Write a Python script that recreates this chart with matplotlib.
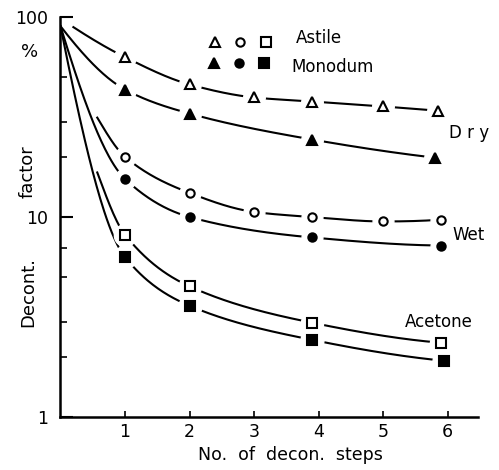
import numpy as np
import matplotlib
matplotlib.use("Agg")
from matplotlib import pyplot as plt
from matplotlib.ticker import NullFormatter

# values (x = no. of decon. steps, y = decont. factor %)
start_y = 90.0

astile_dry_x = [1, 2, 3, 3.9, 5, 5.85]
astile_dry = [63, 46, 39.6, 37.8, 35.7, 34.0]
astile_dry_start = (0.2, 89)

monodum_dry_x = [1, 2, 3.9, 5.8]
monodum_dry = [43.4, 32.9, 24.4, 19.8]

astile_wet_x = [1, 2, 3, 3.9, 5, 5.9]
astile_wet = [20.0, 13.2, 10.6, 10.0, 9.5, 9.7]
astile_wet_start = (0.57, 31.4)

monodum_wet_x = [1, 2, 3.9, 5.9]
monodum_wet = [15.5, 10.0, 7.9, 7.2]

astile_acetone_x = [1, 2, 3.9, 5.9]
astile_acetone = [8.15, 4.5, 2.96, 2.35]
astile_acetone_start = (0.57, 16.7)

monodum_acetone_x = [1, 2, 3.9, 5.95]
monodum_acetone = [6.3, 3.6, 2.43, 1.91]

x_ticks = [1, 2, 3, 4, 5, 6]
y_ticks = [1, 10, 100]
y_tick_labels = ['1', '10', '100']
y_minor = [2, 3, 5, 7, 20, 30, 50]


def pchip(x, y, xs):
    x = np.asarray(x, float)
    y = np.asarray(y, float)
    h = np.diff(x)
    d = np.diff(y) / h
    n = len(x)
    m = np.zeros(n)
    for k in range(1, n - 1):
        if d[k - 1] * d[k] > 0:
            w1 = 2 * h[k] + h[k - 1]
            w2 = h[k] + 2 * h[k - 1]
            m[k] = (w1 + w2) / (w1 / d[k - 1] + w2 / d[k])
    m[0] = ((2 * h[0] + h[1]) * d[0] - h[0] * d[1]) / (h[0] + h[1])
    if np.sign(m[0]) != np.sign(d[0]):
        m[0] = 0
    m[-1] = ((2 * h[-1] + h[-2]) * d[-1] - h[-1] * d[-2]) / (h[-1] + h[-2])
    if np.sign(m[-1]) != np.sign(d[-1]):
        m[-1] = 0
    idx = np.clip(np.searchsorted(x, xs) - 1, 0, n - 2)
    t = (xs - x[idx]) / h[idx]
    h00 = 2 * t**3 - 3 * t**2 + 1
    h10 = t**3 - 2 * t**2 + t
    h01 = -2 * t**3 + 3 * t**2
    h11 = t**3 - t**2
    return h00 * y[idx] + h10 * h[idx] * m[idx] + h01 * y[idx + 1] + h11 * h[idx] * m[idx + 1]


def curve(start, xs, ys):
    x = [start[0]] + list(xs)
    ly = np.log10([start[1]] + list(ys))
    xx = np.linspace(x[0], x[-1], 300)
    return xx, 10 ** pchip(x, ly, xx)


fig = plt.figure(figsize=(4.99, 4.70), dpi=100)
ax = fig.add_axes([0.1212, 0.1128, 0.8367, 0.851])

series = [
    (astile_dry_start, astile_dry_x, astile_dry, '^', 'white', 6.5),
    ((0, start_y), monodum_dry_x, monodum_dry, '^', 'black', 6.5),
    (astile_wet_start, astile_wet_x, astile_wet, 'o', 'white', 6),
    ((0, start_y), monodum_wet_x, monodum_wet, 'o', 'black', 6),
    (astile_acetone_start, astile_acetone_x, astile_acetone, 's', 'white', 7),
    ((0, start_y), monodum_acetone_x, monodum_acetone, 's', 'black', 7.5),
]

for start, xs, ys, mk, fc, ms in series:
    xx, yy = curve(start, xs, ys)
    ax.plot(xx, yy, color='black', lw=1.5, zorder=2)
    # white halo so the curve breaks around each point, as in the original
    ax.plot(xs, ys, ls='none', marker='o', ms=ms + 9, mfc='white', mec='white', zorder=3)
    ax.plot(xs, ys, ls='none', marker=mk, ms=ms, mfc=fc, mec='black', mew=1.5, zorder=4)

# legend block
for i, (mk, ms) in enumerate([('^', 6.5), ('o', 6), ('s', 7)]):
    ax.plot([0.370 + 0.061 * i], [0.9375], transform=ax.transAxes, ls='none', marker=mk,
            ms=ms, mfc='white', mec='black', mew=1.5, clip_on=False)
    ax.plot([0.368 + 0.060 * i], [0.885], transform=ax.transAxes, ls='none', marker=mk,
            ms=ms, mfc='black', mec='black', mew=1.5, clip_on=False)
ax.text(0.564, 0.947, 'Astile', transform=ax.transAxes, fontsize=12, va='center', ha='left')
ax.text(0.554, 0.875, 'Monodum', transform=ax.transAxes, fontsize=12, va='center', ha='left')

ax.text(0.930, 0.71, 'D r y', transform=ax.transAxes, fontsize=12, va='center', ha='left')
ax.text(0.940, 0.455, 'Wet', transform=ax.transAxes, fontsize=12, va='center', ha='left')
ax.text(0.825, 0.2375, 'Acetone', transform=ax.transAxes, fontsize=12, va='center', ha='left')

ax.set_yscale('log')
ax.set_ylim(1, 100)
ax.set_xlim(0, 6.47)
ax.set_yticks(y_ticks, labels=y_tick_labels)
ax.set_yticks(y_minor, minor=True)
ax.yaxis.set_minor_formatter(NullFormatter())
ax.set_xticks(x_ticks)
ax.tick_params(axis='y', which='major', direction='in', length=9, width=1.5, pad=9, labelsize=12.5)
ax.tick_params(axis='y', which='minor', direction='in', length=5, width=1.2)
ax.tick_params(axis='x', direction='in', length=4, width=1.2, pad=4, labelsize=12.5)

for side in ['top', 'right']:
    ax.spines[side].set_visible(False)
for side in ['left', 'bottom']:
    ax.spines[side].set_linewidth(1.8)

fig.text(30 / 499, 1 - 52 / 470, '%', fontsize=13, ha='center', va='center')
fig.text(28 / 499, 1 - 172 / 470, 'factor', fontsize=13, rotation=90, ha='center', va='center')
fig.text(28 / 499, 1 - 292 / 470, 'Decont.', fontsize=13, rotation=90, ha='center', va='center')
fig.text(290 / 499, 1 - 455 / 470, 'No.  of  decon.  steps', fontsize=12.5, ha='center', va='center')

fig.savefig('out.png', dpi=100)
